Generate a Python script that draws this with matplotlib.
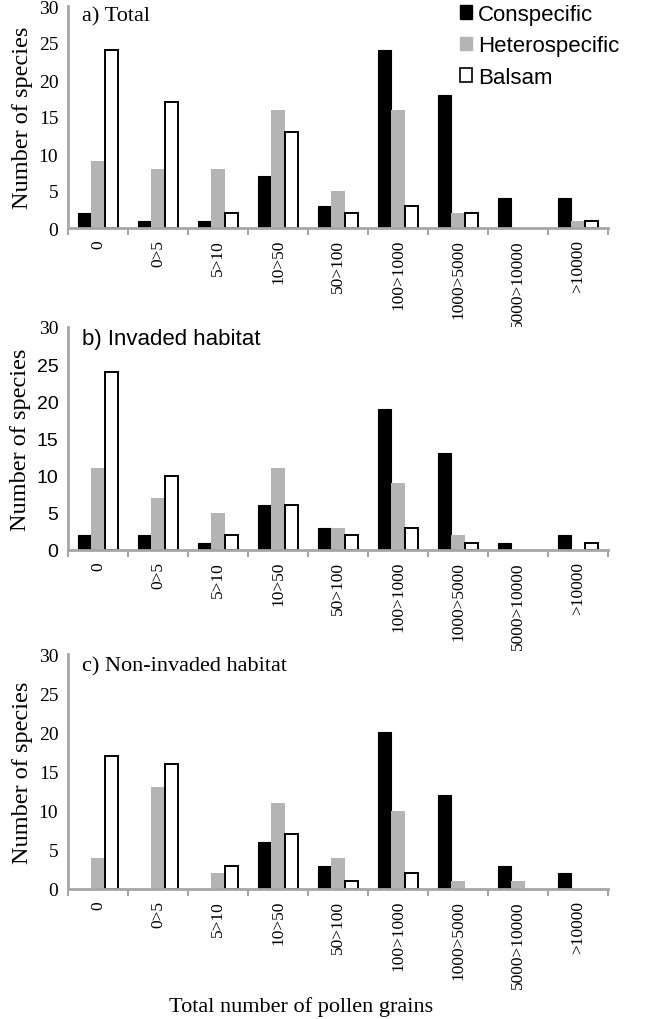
import matplotlib
matplotlib.use("Agg")
import matplotlib.pyplot as plt
import numpy as np
from matplotlib.patches import Patch

categories = ["0", "0>5", "5>10", "10>50", "50>100", "100>1000", "1000>5000", "5000>10000", ">10000"]

total_con = [2, 1, 1, 7, 3, 24, 18, 4, 4]
total_het = [9, 8, 8, 16, 5, 16, 2, 0, 1]
total_bal = [24, 17, 2, 13, 2, 3, 2, 0, 1]

inv_con = [2, 2, 1, 6, 3, 19, 13, 1, 2]
inv_het = [11, 7, 5, 11, 3, 9, 2, 0, 0]
inv_bal = [24, 10, 2, 6, 2, 3, 1, 0, 1]

non_con = [0, 0, 0, 6, 3, 20, 12, 3, 2]
non_het = [4, 13, 2, 11, 4, 10, 1, 1, 0]
non_bal = [17, 16, 3, 7, 1, 2, 0, 0, 0]

titles = ["a) Total", "b) Invaded habitat", "c) Non-invaded habitat"]
series_names = ["Conspecific", "Heterospecific", "Balsam"]

SERIF = "Liberation Serif"
SANS = "Liberation Sans"
SPINE = "#a6a6a6"
GRAY = "#b4b4b4"

W, H = 661, 1020
fig = plt.figure(figsize=(W / 100, H / 100), dpi=100)

# axes rectangles in pixel coordinates: (top_px, bottom_px)
panels = [(7, 229), (328, 551), (655, 890)]
title_offsets = [10, 12, 12]
left_px, right_px = 68, 608

data = [(total_con, total_het, total_bal),
        (inv_con, inv_het, inv_bal),
        (non_con, non_het, non_bal)]

bw = 0.225
x = np.arange(len(categories))
for i, ((top, bot), (con, het, bal)) in enumerate(zip(panels, data)):
    ax = fig.add_axes([left_px / W, 1 - bot / H, (right_px - left_px) / W, (bot - top) / H])
    bars = []
    bars += list(ax.bar(x - bw, con, bw, color="black", edgecolor="black", linewidth=0.8))
    bars += list(ax.bar(x, het, bw, color=GRAY, edgecolor=GRAY, linewidth=0.0))
    bars += list(ax.bar(x + bw, bal, bw, color="white", edgecolor="black", linewidth=1.4))
    for b in bars:
        if b.get_height() == 0:
            b.set_visible(False)
    ax.set_xlim(-0.5, len(categories) - 0.5)
    ax.set_ylim(0, 30)
    ax.set_yticks([0, 5, 10, 15, 20, 25, 30])
    ax.set_xticks(x)
    ax.set_xticks(np.arange(len(categories) + 1) - 0.5, minor=True)
    ax.set_xticklabels(categories, rotation=90, fontfamily=SERIF, fontsize=12.5)
    ax.tick_params(axis="x", which="major", length=0, pad=8)
    ax.tick_params(axis="x", which="minor", length=5, width=1.5, color=SPINE, direction="out")
    ax.tick_params(axis="y", length=0, pad=7)
    labs = ax.get_yticklabels()
    for k, lab in enumerate(labs):
        fam = SANS if (i == 1 and k < len(labs) - 1) else SERIF
        lab.set_fontfamily(fam)
        lab.set_fontsize(14)
    for s in ["top", "right"]:
        ax.spines[s].set_visible(False)
    for s in ["left", "bottom"]:
        ax.spines[s].set_color(SPINE)
        ax.spines[s].set_linewidth(2)
    ax.set_ylabel("Number of species", fontfamily=SERIF, fontsize=17.5, labelpad=4)
    tfam = SANS if i == 1 else SERIF
    ax.text(82 / W, 1 - (top + title_offsets[i]) / H, titles[i], transform=fig.transFigure,
            fontfamily=tfam, fontsize=16, va="center", ha="left")
    if i == 0:
        handles = [Patch(facecolor="black", edgecolor="black"),
                   Patch(facecolor=GRAY, edgecolor=GRAY),
                   Patch(facecolor="white", edgecolor="black", linewidth=1.2)]
        fig.legend(handles, series_names, loc="upper left",
                   bbox_to_anchor=(460 / W, 1 - 5 / H), bbox_transform=fig.transFigure,
                   frameon=False, prop={"family": SANS, "size": 16},
                   handlelength=0.55, handleheight=0.55, handletextpad=0.25,
                   labelspacing=0.47, borderpad=0, borderaxespad=0)

fig.text(301 / W, 1 - 1007 / H, "Total number of pollen grains", fontfamily=SERIF,
         fontsize=16, ha="center", va="center")

fig.savefig("out.png", dpi=100)
